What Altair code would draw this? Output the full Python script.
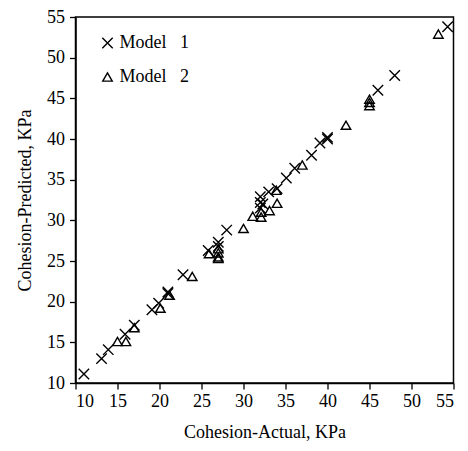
import altair as alt
import pandas as pd

m1_actual = [11.0, 13.1, 13.9, 15.9, 17.0, 19.1, 19.9, 21.0, 21.0, 22.8, 25.8, 27.0, 27.0, 28.0,
             32.0, 32.0, 32.0, 32.3, 33.0, 34.0, 35.1, 36.1, 38.1, 39.1, 40.0, 40.0, 46.0, 48.0, 54.3]
m1_pred = [11.1, 13.0, 14.1, 16.0, 17.1, 19.0, 19.8, 21.2, 21.0, 23.3, 26.3, 27.3, 26.8, 28.8,
           32.9, 32.2, 31.5, 32.0, 33.5, 33.9, 35.2, 36.4, 38.0, 39.5, 40.2, 40.0, 46.0, 47.8, 53.8]

m2_actual = [15.0, 16.0, 17.0, 20.1, 21.2, 23.9, 25.9, 27.0, 27.0, 27.0, 27.0, 30.0, 31.1, 32.1,
             32.1, 33.1, 34.0, 33.9, 37.0, 42.2, 45.0, 45.0, 45.0, 53.2]
m2_pred = [15.1, 15.1, 16.8, 19.2, 20.8, 23.1, 25.9, 26.5, 26.0, 25.5, 25.3, 29.0, 30.5, 30.4,
           31.0, 31.2, 32.1, 33.7, 36.8, 41.7, 44.9, 44.5, 44.1, 52.9]

series = ["Model\u00a0\u00a0\u00a01", "Model\u00a0\u00a0\u00a02"]
ticks = [10, 15, 20, 25, 30, 35, 40, 45, 50, 55]

df = pd.DataFrame({
    "actual": m1_actual + m2_actual,
    "pred": m1_pred + m2_pred,
    "model": [series[0]] * len(m1_actual) + [series[1]] * len(m2_actual),
})

xshape = "M-1.1,-1.1L1.1,1.1M-1.1,1.1L1.1,-1.1"
font = "Liberation Serif"

chart = alt.Chart(df).mark_point(filled=False, color="black", strokeWidth=1.4, opacity=1, size=90).encode(
    x=alt.X("actual:Q", title="Cohesion-Actual, KPa",
            scale=alt.Scale(domain=[10, 55], nice=False, zero=False),
            axis=alt.Axis(values=ticks, grid=False, labelPadding=3, titlePadding=13)),
    y=alt.Y("pred:Q", title="Cohesion-Predicted, KPa",
            scale=alt.Scale(domain=[10, 55], nice=False, zero=False),
            axis=alt.Axis(values=ticks, grid=False, labelPadding=5, titlePadding=12)),
    shape=alt.Shape("model:N", scale=alt.Scale(domain=series, range=[xshape, "triangle-up"]),
                    legend=alt.Legend(title=None, orient="none", legendX=23, legendY=17,
                                      padding=0, labelFont=font, labelFontSize=18, rowPadding=16,
                                      symbolSize=90, symbolStrokeWidth=1.4,
                                      symbolStrokeColor="black", symbolFillColor="white",
                                      labelOffset=3, labelColor="black")),
).properties(
    width=378, height=366,
    autosize=alt.AutoSizeParams(type="none"),
    padding={"left": 67.5, "top": 9, "right": 6, "bottom": 60},
).configure_view(
    stroke="black", strokeWidth=1.5
).configure_axis(
    domainColor="black", domainWidth=1.5, tickColor="black", tickWidth=1.3, tickSize=6,
    labelFont=font, labelFontSize=18, labelColor="black",
    titleFont=font, titleFontSize=18, titleFontWeight="normal", titleColor="black",
)

chart.save("out.html", embed_options={"renderer": "svg", "actions": False})
